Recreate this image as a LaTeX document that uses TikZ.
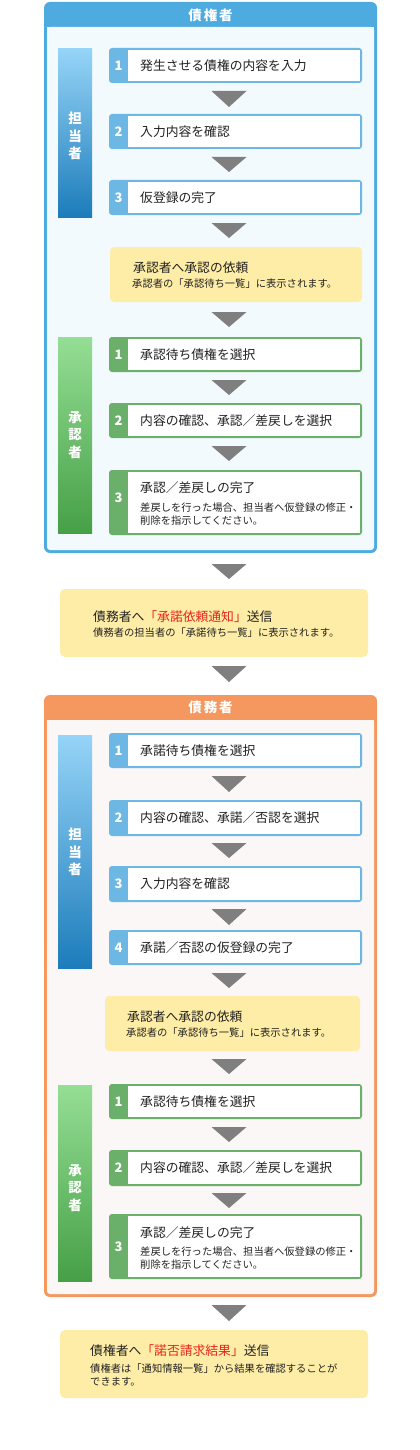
\documentclass[tikz,border=0pt]{standalone}
\usepackage{fontspec}
\setmainfont{Noto Sans CJK JP}
\definecolor{bhead}{HTML}{4EABE0}
\definecolor{bin}{HTML}{F2FAFE}
\definecolor{ohead}{HTML}{F5985F}
\definecolor{oin}{HTML}{FBF7F6}
\definecolor{bstepc}{HTML}{6CB7E3}
\definecolor{gstepc}{HTML}{6AAF6A}
\definecolor{ybox}{HTML}{FEEDA6}
\definecolor{arrc}{HTML}{7F7F7F}
\definecolor{txt}{HTML}{222222}
\definecolor{redt}{HTML}{E8231B}
\definecolor{bbart}{HTML}{96D4F8}
\definecolor{bbarb}{HTML}{1C7CBA}
\definecolor{gbart}{HTML}{95DE95}
\definecolor{gbarb}{HTML}{46A046}
\newcommand\stp[5]{% name, top, bottom, color, number y
  \fill[#4, rounded corners=3pt] (109,#2) rectangle (362,#3);
  \fill[white] (128,{#2+2}) rectangle (360,{#3-2});
  \coordinate (#1top) at (229,#2);
  \coordinate (#1bot) at (229,#3);
}
\newcommand\tri[3]{% name, y1, y2
  \fill[arrc] (211.5,#2) coordinate (#1a) -- (246.5,#2) -- (229,#3) coordinate (#1b) -- cycle;
}
\begin{document}
\begin{tikzpicture}[x=1pt,y=-1pt,
  main/.style={anchor=west,inner sep=0pt,text=txt,font=\fontsize{12.8}{14}\selectfont},
  subt/.style={anchor=west,inner sep=0pt,text=txt,font=\fontsize{10.3}{13}\selectfont,align=left},
  num/.style={inner sep=0pt,text=white,font=\bfseries\fontsize{13}{14}\selectfont},
  head/.style={inner sep=0pt,text=white,font=\bfseries\fontsize{13.5}{15}\selectfont},
  bartxt/.style={inner sep=0pt,text=white,font=\bfseries\fontsize{13.5}{17.5}\selectfont,align=center}]
\fill[white] (0,0) rectangle (420,1450);
\useasboundingbox (0,0) rectangle (420,1450);

% ===== creditor (blue) container =====
\fill[bhead, rounded corners=6pt] (44,2) rectangle (377,553);
\fill[bin, rounded corners=3pt] (47,27) rectangle (374,550);
\fill[bin] (47,27) rectangle (374,40);
\node[head] (bh) at (210.5,15) {債\hspace{2pt}権\hspace{2pt}者};

\shade[top color=bbart, bottom color=bbarb] (58,49) rectangle (92,217);
\node[bartxt] (bbar1) at (75,136) {担\\当\\者};

\stp{s1}{48}{83}{bstepc}{}
\node[num] (s1n) at (118.5,65.5) {1};
\node[main] (s1t) at (140,65.5) {発生させる債権の内容を入力};
\tri{a1}{91}{107}
\stp{s2}{114}{149}{bstepc}{}
\node[num] (s2n) at (118.5,131.5) {2};
\node[main] (s2t) at (140,131.5) {入力内容を確認};
\tri{a2}{157}{172}
\stp{s3}{180}{215}{bstepc}{}
\node[num] (s3n) at (118.5,197.5) {3};
\node[main] (s3t) at (140,197.5) {仮登録の完了};
\tri{a3}{223}{238}

\fill[ybox, rounded corners=4pt] (110,247) rectangle (362,302);
\node[main] (y1t) at (133,268) {承認者へ承認の依頼};
\node[subt] (y1s) at (132,284) {承認者の「承認待ち一覧」に表示されます。};
\tri{a4}{312}{327}

\shade[top color=gbart, bottom color=gbarb] (58,337) rectangle (92,533);
\node[bartxt] (gbar1) at (75,435) {承\\認\\者};

\stp{g1}{337}{372}{gstepc}{}
\node[num] (g1n) at (118.5,354.5) {1};
\node[main] (g1t) at (140,354.5) {承認待ち債権を選択};
\tri{a5}{380}{395}
\stp{g2}{403}{438}{gstepc}{}
\node[num] (g2n) at (118.5,420.5) {2};
\node[main] (g2t) at (140,420.5) {内容の確認、承認／差戻しを選択};
\tri{a6}{446}{461}
\stp{g3}{470}{535}{gstepc}{}
\node[num] (g3n) at (118.5,498) {3};
\node[main] (g3t) at (140,488) {承認／差戻しの完了};
\node[subt] (g3s) at (140,514.5) {差戻しを行った場合、担当者へ仮登録の修正・\\削除を指示してください。};

% ===== between =====
\tri{a7}{564}{579}
\fill[ybox, rounded corners=5pt] (60,589) rectangle (368,657);
\node[main] (m1t) at (93,617) {債務者へ{\color{redt}「承諾依頼通知」}送信};
\node[subt] (m1s) at (93,633) {債務者の担当者の「承諾待ち一覧」に表示されます。};
\tri{a8}{666}{682}

% ===== debtor (orange) container =====
\fill[ohead, rounded corners=6pt] (44,695) rectangle (377,1297);
\fill[oin, rounded corners=3pt] (47,720) rectangle (374,1294);
\fill[oin] (47,720) rectangle (374,733);
\node[head] (oh) at (210.5,707.5) {債\hspace{2pt}務\hspace{2pt}者};

\shade[top color=bbart, bottom color=bbarb] (58,735) rectangle (92,968);
\node[bartxt] (bbar2) at (75,852) {担\\当\\者};

\stp{b1}{733}{768}{bstepc}{}
\node[num] (b1n) at (118.5,750.5) {1};
\node[main] (b1t) at (140,750.5) {承諾待ち債権を選択};
\tri{a9}{776}{792}
\stp{b2}{800}{836}{bstepc}{}
\node[num] (b2n) at (118.5,818) {2};
\node[main] (b2t) at (140,818) {内容の確認、承諾／否認を選択};
\tri{a10}{843}{858}
\stp{b3}{866}{902}{bstepc}{}
\node[num] (b3n) at (118.5,884) {3};
\node[main] (b3t) at (140,884) {入力内容を確認};
\tri{a11}{909}{925}
\stp{b4}{930}{965}{bstepc}{}
\node[num] (b4n) at (118.5,947.5) {4};
\node[main] (b4t) at (140,947.5) {承諾／否認の仮登録の完了};
\tri{a12}{973}{988}

\fill[ybox, rounded corners=4pt] (105,996) rectangle (360,1051);
\node[main] (y2t) at (127,1017) {承認者へ承認の依頼};
\node[subt] (y2s) at (126,1033) {承認者の「承認待ち一覧」に表示されます。};
\tri{a13}{1059}{1074}

\shade[top color=gbart, bottom color=gbarb] (58,1085) rectangle (92,1281);
\node[bartxt] (gbar2) at (75,1188) {承\\認\\者};

\stp{h1}{1084}{1119}{gstepc}{}
\node[num] (h1n) at (118.5,1101.5) {1};
\node[main] (h1t) at (140,1101.5) {承認待ち債権を選択};
\tri{a14}{1127}{1142}
\stp{h2}{1150}{1186}{gstepc}{}
\node[num] (h2n) at (118.5,1168) {2};
\node[main] (h2t) at (140,1168) {内容の確認、承認／差戻しを選択};
\tri{a15}{1193}{1208}
\stp{h3}{1214}{1279}{gstepc}{}
\node[num] (h3n) at (118.5,1247) {3};
\node[main] (h3t) at (140,1233) {承認／差戻しの完了};
\node[subt] (h3s) at (140,1258) {差戻しを行った場合、担当者へ仮登録の修正・\\削除を指示してください。};

% ===== final =====
\tri{a16}{1305}{1321}
\fill[ybox, rounded corners=5pt] (60,1330) rectangle (368,1398);
\node[main] (f1t) at (90,1351) {債権者へ{\color{redt}「諾否請求結果」}送信};
\node[subt] (f1s) at (90,1375) {債権者は「通知情報一覧」から結果を確認することが\\できます。};
\end{tikzpicture}
\end{document}
